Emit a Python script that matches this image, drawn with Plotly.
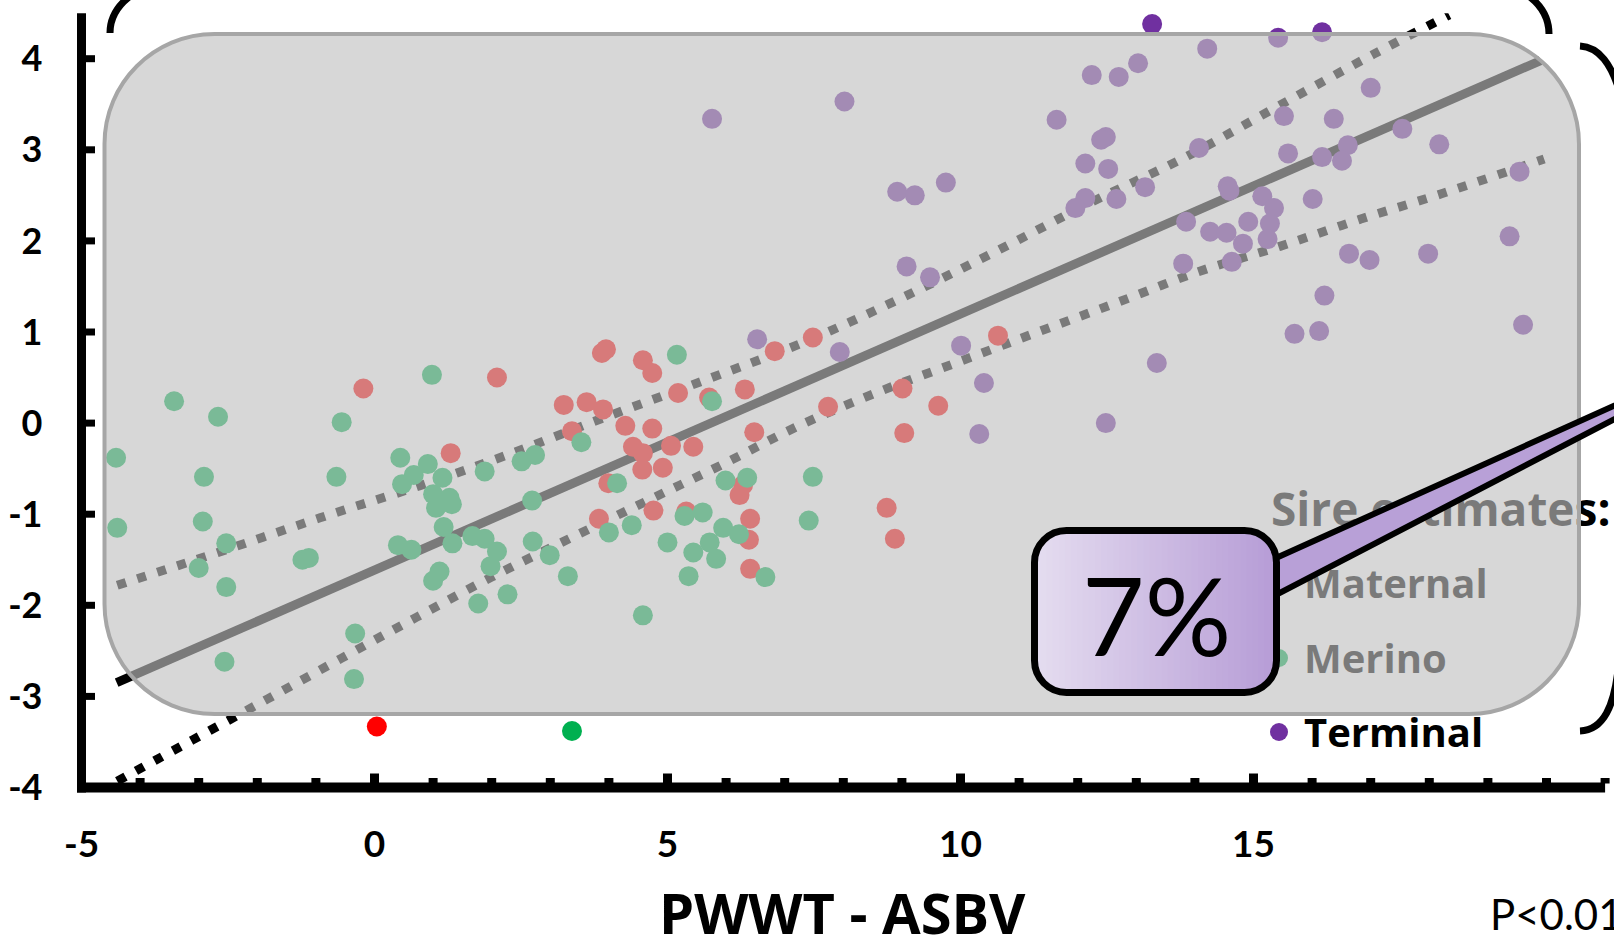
import plotly.graph_objects as go

W, H = 1614, 939

# ---------------- data ----------------
terminal_x = [13.27, 15.42, 16.17, 14.21, 13.03, 12.24, 12.70, 8.02, 5.76, 17.00, 15.52, 16.37, 11.64,
              17.54, 12.48, 12.40, 14.07, 18.17, 16.61, 15.59, 16.17, 16.51, 12.13, 12.52, 9.75, 8.92,
              9.22, 13.15, 14.56, 14.59, 12.13, 12.66, 15.15, 16.01, 11.96, 15.35, 19.54, 13.85, 14.91,
              15.28, 14.26, 14.54, 14.82, 15.24, 14.63, 13.80, 16.63, 16.98, 17.98, 19.37, 9.08, 9.48,
              16.21, 15.70, 16.12, 19.60, 6.53, 7.94, 10.01, 13.35, 10.40, 12.48, 10.32]
terminal_y = [4.38, 4.23, 4.29, 4.11, 3.95, 3.82, 3.80, 3.53, 3.34, 3.68, 3.37, 3.34, 3.33,
              3.23, 3.14, 3.11, 3.02, 3.06, 3.05, 2.96, 2.92, 2.88, 2.85, 2.79, 2.64, 2.54,
              2.50, 2.59, 2.60, 2.55, 2.47, 2.46, 2.49, 2.46, 2.36, 2.36, 2.76, 2.21, 2.21,
              2.19, 2.10, 2.09, 1.97, 2.02, 1.77, 1.75, 1.86, 1.79, 1.86, 2.05, 1.72, 1.60,
              1.40, 0.98, 1.01, 1.08, 0.92, 0.78, 0.85, 0.66, 0.44, 0.00, -0.12]

maternal_x = [-0.19, 2.09, 1.30, 0.04, 3.88, 3.95, 4.58, 4.74, 5.18, 3.23, 3.62, 3.90, 3.37, 4.28,
              4.74, 4.41, 4.58, 4.57, 4.92, 5.06, 5.44, 5.71, 6.32, 6.48, 6.83, 7.48, 7.74, 8.74,
              8.88, 9.01, 9.04, 9.62, 10.64, 3.99, 3.83, 4.76, 5.32, 6.29, 6.23, 6.41, 6.39, 6.41]
maternal_y = [0.38, 0.50, -0.33, -3.33, 0.77, 0.81, 0.69, 0.55, 0.33, 0.20, 0.23, 0.15, -0.09, -0.03,
              -0.06, -0.26, -0.33, -0.51, -0.49, -0.25, -0.26, 0.28, 0.37, -0.10, 0.79, 0.94, 0.18, -0.93,
              -1.27, 0.38, -0.11, 0.19, 0.96, -0.66, -1.05, -0.96, -0.97, -0.68, -0.79, -1.05, -1.28, -1.60]

merino_x = [-3.42, -2.67, -4.41, -2.91, -0.56, -0.65, 0.44, 0.67, 0.47, -4.39, -2.93, -2.53, -3.00,
            -2.53, -1.23, -1.12, 0.40, 0.63, -0.33, -2.56, -0.35, 0.98, 0.91, 1.16, 1.88, 1.00, 1.28,
            1.05, 1.32, 1.18, 1.33, 1.67, 1.88, 2.09, 1.98, 1.00, 1.11, 1.77, 2.27, 2.51, 2.74, 2.69,
            2.70, 2.99, 3.30, 3.53, 4.14, 4.00, 4.39, 4.58, 5.16, 5.76, 5.00, 5.29, 5.60, 5.44, 5.36,
            5.72, 5.83, 5.95, 6.22, 5.99, 6.36, 6.67, 7.48, 7.41, 3.37]
merino_y = [0.24, 0.07, -0.38, -0.59, 0.01, -0.59, -0.38, -0.57, -0.67, -1.15, -1.08, -1.32, -1.59,
            -1.80, -1.50, -1.48, -1.34, -1.39, -2.31, -2.62, -2.81, 0.53, -0.45, -0.60, -0.53, -0.78, -0.82,
            -0.93, -0.89, -1.14, -1.32, -1.24, -1.27, -1.41, -1.57, -1.73, -1.63, -1.98, -1.88, -0.42, -0.35, -0.85,
            -1.30, -1.45, -1.68, -0.21, -0.66, -1.20, -1.12, -2.11, 0.75, 0.24, -1.31, -1.02, -0.98, -1.42, -1.68,
            -1.31, -1.49, -1.15, -1.22, -0.63, -0.60, -1.69, -0.59, -1.07, -3.38]

# regression line and its confidence band
fit_x = [-4.40, 19.90]
fit_y = [-2.85, 3.98]
upper_x = [-4.39, -2.67, -0.93, 0.76, 2.18, 3.88, 5.59, 7.30, 8.95, 10.59, 12.22, 13.87, 15.45, 17.05, 18.34]
upper_y = [-1.78, -1.42, -1.04, -0.69, -0.37, 0.05, 0.46, 0.88, 1.36, 1.88, 2.42, 2.93, 3.49, 4.05, 4.48]
lower_x = [-4.39, -3.11, -1.83, -0.56, 0.72, 2.00, 3.32, 4.63, 5.95, 7.24, 8.59, 9.96, 11.32, 12.70,
           14.05, 15.45, 16.83, 18.22, 19.96]
lower_y = [-3.93, -3.48, -3.03, -2.58, -2.13, -1.69, -1.27, -0.86, -0.45, -0.03, 0.34, 0.67, 1.00, 1.33,
           1.66, 1.94, 2.24, 2.52, 2.90]

x_tickvals = [-5, 0, 5, 10, 15]
x_ticktext = ["-5", "0", "5", "10", "15"]
y_tickvals = [-4, -3, -2, -1, 0, 1, 2, 3, 4]
y_ticktext = ["-4", "-3", "-2", "-1", "0", "1", "2", "3", "4"]
x_minor_ticks = list(range(-4, 22))

legend_names = ["Maternal", "Merino", "Terminal"]
legend_colors = ["#FF0000", "#00B050", "#7030A0"]
legend_title = "Sire estimates:"
x_title = "PWWT - ASBV"
p_text = "P<0.01"
pct_text = "7%"

# ---------------- geometry helpers ----------------
X0_PX, X_PER = 81.5, 58.6    # pixel of x=-5, pixels per unit
Y0_PX, Y_PER = 787.5, 91.1   # pixel of y=-4, pixels per unit
X_RANGE = [-5, 21]
Y_RANGE = [-4, 4.5]


def px_of_x(v):
    return X0_PX + (v - X_RANGE[0]) * X_PER


def py_of_y(v):
    return Y0_PX - (v - Y_RANGE[0]) * Y_PER


def x_of_px(p):
    return X_RANGE[0] + (p - X0_PX) / X_PER


def y_of_py(p):
    return Y_RANGE[0] + (Y0_PX - p) / Y_PER


def P(x, y):
    return f"{x / W:.5f},{1 - y / H:.5f}"


def rrect_path(L, T, R, B, r):
    k = 0.5523 * r
    return (f"M {P(L + r, T)} L {P(R - r, T)} C {P(R - r + k, T)} {P(R, T + r - k)} {P(R, T + r)} "
            f"L {P(R, B - r)} C {P(R, B - r + k)} {P(R - r + k, B)} {P(R - r, B)} "
            f"L {P(L + r, B)} C {P(L + r - k, B)} {P(L, B - r + k)} {P(L, B - r)} "
            f"L {P(L, T + r)} C {P(L, T + r - k)} {P(L + r - k, T)} {P(L + r, T)} Z")


fig = go.Figure()

# confidence band and regression line
for bx, by in [(upper_x, upper_y), (lower_x, lower_y)]:
    fig.add_trace(go.Scatter(x=bx, y=by, mode="lines", line=dict(color="black", width=9, dash="9px,12px",
                                                                 shape="spline"), hoverinfo="skip"))
fig.add_trace(go.Scatter(x=fit_x, y=fit_y, mode="lines", line=dict(color="black", width=9), hoverinfo="skip"))

# data points
for xs, ys, col in [(maternal_x, maternal_y, legend_colors[0]),
                    (merino_x, merino_y, legend_colors[1]),
                    (terminal_x, terminal_y, legend_colors[2])]:
    fig.add_trace(go.Scatter(x=xs, y=ys, mode="markers", cliponaxis=False,
                             marker=dict(color=col, size=20, line=dict(width=0))))

# legend (drawn as traces so the grey veil covers it)
leg_py = [583, 658, 732]
fig.add_trace(go.Scatter(x=[x_of_px(1279)] * 3, y=[y_of_py(p) for p in leg_py], mode="markers",
                         cliponaxis=False, marker=dict(color=legend_colors, size=18, line=dict(width=0))))
fig.add_trace(go.Scatter(x=[x_of_px(1304)] * 3, y=[y_of_py(p + 5) for p in leg_py], mode="text",
                         text=legend_names, textposition="middle right", cliponaxis=False,
                         textfont=dict(family="Open Sans", size=40, color="black", weight="bold")))
fig.add_trace(go.Scatter(x=[x_of_px(1271)], y=[y_of_py(515)], mode="text", text=[legend_title],
                         textposition="middle right", cliponaxis=False,
                         textfont=dict(family="Open Sans", size=46, color="black", weight="bold")))

shapes = []
# axes lines and ticks
ax_y = py_of_y(-4)
ax_x = px_of_x(-5)
shapes.append(dict(type="line", xref="paper", yref="paper", x0=(ax_x - 4.5) / W, x1=px_of_x(21) / W,
                   y0=1 - ax_y / H, y1=1 - ax_y / H, line=dict(color="black", width=10)))
shapes.append(dict(type="line", xref="paper", yref="paper", x0=ax_x / W, x1=ax_x / W,
                   y0=1 - (ax_y + 5) / H, y1=1 - py_of_y(4.5) / H, line=dict(color="black", width=9)))
for v in x_minor_ticks:
    h = 9 if v % 5 == 0 and v <= 15 else 4.5
    xp = px_of_x(v)
    shapes.append(dict(type="line", xref="paper", yref="paper", x0=xp / W, x1=xp / W,
                       y0=1 - (ax_y - 4) / H, y1=1 - (ax_y - 5 - h) / H, line=dict(color="black", width=9)))
for v in y_tickvals[1:]:
    yp = py_of_y(v)
    shapes.append(dict(type="line", xref="paper", yref="paper", x0=(ax_x + 3) / W, x1=(ax_x + 13.5) / W,
                       y0=1 - yp / H, y1=1 - yp / H, line=dict(color="black", width=7)))

# grey veil
shapes.append(dict(type="path", xref="paper", yref="paper", layer="above",
                   path=rrect_path(104.5, 34, 1579, 714, 110),
                   fillcolor="rgba(192,192,192,0.635)", line=dict(color="#A6A6A6", width=4)))

# brackets
for pth in [f"M {P(129, -3)} Q {P(110, 12)} {P(110, 33)}",
            f"M {P(1530, -3)} Q {P(1549, 12)} {P(1549, 34)}",
            f"M {P(1580, 46)} C {P(1598, 47)} {P(1612, 62)} {P(1622, 100)}",
            f"M {P(1618, 670)} C {P(1614, 705)} {P(1604, 730)} {P(1580, 731)}"]:
    shapes.append(dict(type="path", xref="paper", yref="paper", layer="above", path=pth,
                       fillcolor="rgba(0,0,0,0)", line=dict(color="black", width=7)))

# call-out wedge
shapes.append(dict(type="path", xref="paper", yref="paper", layer="above",
                   path=f"M {P(1276, 558)} L {P(1809, 318)} L {P(1274, 596)} Z",
                   fillcolor="rgb(184,160,215)", line=dict(color="black", width=6)))

# call-out box with horizontal gradient
L, T, R, B, r = 1034.5, 530.5, 1276.5, 692.5, 32
c0, c1 = (229, 221, 240), (182, 156, 214)
n = 40


def top_y(x):
    if x < L + r:
        d = L + r - x
        return T + r - max(r * r - d * d, 0) ** 0.5
    if x > R - r:
        d = x - (R - r)
        return T + r - max(r * r - d * d, 0) ** 0.5
    return T


def bot_y(x):
    return B - (top_y(x) - T)


for i in range(n):
    xa = L + (R - L) * i / n
    xb = min(L + (R - L) * (i + 1) / n + 0.7, R)
    xs = [xa + (xb - xa) * j / 4 for j in range(5)]
    pts = [(x, top_y(x)) for x in xs] + [(x, bot_y(x)) for x in reversed(xs)]
    path = "M " + " L ".join(P(x, y) for x, y in pts) + " Z"
    t = (i + 0.5) / n
    col = tuple(round(c0[k] + (c1[k] - c0[k]) * t) for k in range(3))
    shapes.append(dict(type="path", xref="paper", yref="paper", layer="above", path=path,
                       fillcolor=f"rgb{col}", line=dict(width=0)))
shapes.append(dict(type="path", xref="paper", yref="paper", layer="above", path=rrect_path(L, T, R, B, r),
                   fillcolor="rgba(0,0,0,0)", line=dict(color="black", width=7)))

annotations = [
    dict(text=pct_text, x=1156 / W, y=1 - 614 / H, xref="paper", yref="paper", showarrow=False,
         xanchor="center", yanchor="middle", font=dict(family="Lato", size=108, color="black")),
    dict(text=x_title, x=842 / W, y=1 - 912 / H, xref="paper", yref="paper", showarrow=False,
         xanchor="center", yanchor="middle",
         font=dict(family="Open Sans", size=56, color="black", weight="bold")),
    dict(text=p_text, x=1488 / W, y=1 - 914 / H, xref="paper", yref="paper", showarrow=False,
         xanchor="left", yanchor="middle", font=dict(family="Lato", size=42, color="black")),
]

fig.update_layout(
    width=W, height=H, autosize=False, template="none",
    margin=dict(l=0, r=0, t=0, b=0, pad=0),
    paper_bgcolor="white", plot_bgcolor="rgba(0,0,0,0)",
    showlegend=False,
    shapes=shapes, annotations=annotations,
    xaxis=dict(domain=[X0_PX / W, px_of_x(21) / W], range=X_RANGE, showgrid=False, zeroline=False,
               showline=False, ticks="", tickvals=x_tickvals, ticktext=x_ticktext, automargin=False,
               ticklabelstandoff=31,
               tickfont=dict(family="Lato", size=37, color="black", weight="bold")),
    yaxis=dict(domain=[1 - Y0_PX / H, 1 - py_of_y(4.5) / H], range=Y_RANGE, showgrid=False, zeroline=False,
               showline=False, ticks="", tickvals=y_tickvals, ticktext=y_ticktext, automargin=False,
               ticklabelstandoff=38,
               tickfont=dict(family="Lato", size=36, color="black", weight="bold")),
)

fig.write_html("out.html")
